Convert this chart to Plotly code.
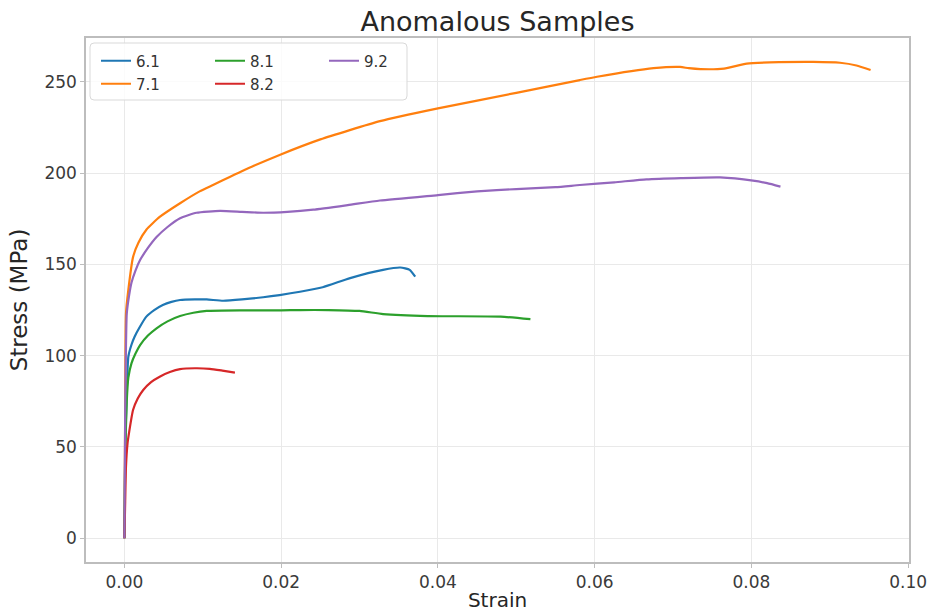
import plotly.graph_objects as go

# ---- data ----
s61 = [0, 0.0001, 0.0003, 0.0005, 0.0009, 0.0013, 0.002, 0.0028, 0.0038, 0.0049, 0.006, 0.0071, 0.009,
       0.0105, 0.0126, 0.015, 0.0177, 0.0198, 0.0224, 0.0253, 0.0288, 0.033, 0.0352, 0.0364, 0.0371]
S61 = [0, 50, 80, 99.4, 106, 110.4, 116, 121.4, 125, 127.8, 129.5, 130.5, 130.8,
       130.8, 130.1, 130.8, 132, 133.2, 135, 137.5, 142.5, 147, 148.3, 147, 143.3]

s71 = [0, 0.0001, 0.0002, 0.0005, 0.0011, 0.0018, 0.0028, 0.0045, 0.0071, 0.0096, 0.0113, 0.0135, 0.0165,
       0.0198, 0.025, 0.0326, 0.04, 0.05, 0.0581, 0.0603, 0.0675, 0.0709, 0.072, 0.0735, 0.0765,
       0.0794, 0.0835, 0.0879, 0.0913, 0.0934, 0.0952]
S71 = [0, 70, 123, 136, 154, 162, 169, 176, 183.5, 190, 193.5, 198, 204,
       210, 218.5, 228.5, 235.5, 244, 251, 252.8, 257.5, 258.2, 257.5, 257, 257.3,
       260, 260.8, 261, 260.5, 259, 256.5]

s81 = [0, 0.0001, 0.0003, 0.0005, 0.0009, 0.0014, 0.002, 0.003, 0.0041, 0.0055, 0.0071, 0.0088, 0.0105,
       0.015, 0.02, 0.0224, 0.026, 0.03, 0.033, 0.0387, 0.048, 0.0518]
S81 = [0, 45, 75, 88, 95.8, 101, 105.8, 111, 115, 118.8, 121.7, 123.5, 124.5,
       124.8, 124.8, 125, 125, 124.5, 122.8, 121.7, 121.4, 120]

s82 = [0, 0.0001, 0.0002, 0.0004, 0.0006, 0.0011, 0.0017, 0.0024, 0.0034, 0.0045, 0.0058, 0.0071, 0.009,
       0.0109, 0.0125, 0.0141]
S82 = [0, 20, 39, 52, 58, 70.2, 76.5, 81.2, 85.5, 88.5, 91, 92.6, 93.1,
       92.8, 91.8, 90.7]

s92 = [0, 0.0001, 0.0003, 0.0006, 0.0009, 0.0014, 0.002, 0.003, 0.0041, 0.0055, 0.0071, 0.0092, 0.0122,
       0.015, 0.0177, 0.0208, 0.0241, 0.0285, 0.0326, 0.04, 0.045, 0.05, 0.055, 0.0581, 0.0625, 0.0666,
       0.071, 0.076, 0.0802, 0.082, 0.0837]
S92 = [0, 70, 123, 133, 140, 146.5, 152.4, 159, 165, 170.5, 175.3, 178.3, 179.3,
       178.8, 178.3, 178.8, 180, 182.5, 185, 188, 190, 191.3, 192.3, 193.5, 195, 196.6,
       197.3, 197.7, 195.9, 194.5, 192.6]

names = ["6.1", "7.1", "8.1", "8.2", "9.2"]
strains = [s61, s71, s81, s82, s92]
stresses = [S61, S71, S81, S82, S92]
colors = ["#1f77b4", "#ff7f0e", "#2ca02c", "#d62728", "#9467bd"]
legend_of = ["legend", "legend2", "legend", "legend2", "legend"]

xticks = [0, 0.02, 0.04, 0.06, 0.08, 0.10]
yticks = [0, 50, 100, 150, 200, 250]

fig = go.Figure()
for n, x, y, c, lg in zip(names, strains, stresses, colors, legend_of):
    fig.add_trace(go.Scatter(x=x, y=y, mode="lines", name=n,
                             line=dict(color=c, width=2.2, shape="spline", smoothing=0.5),
                             legend=lg))

axis_common = dict(showgrid=True, gridcolor="#e9e9e9", gridwidth=1,
                   showline=True, mirror=True, linecolor="#bdbdbd", linewidth=1.5,
                   ticks="outside", ticklen=4, tickcolor="#bdbdbd", tickwidth=1,
                   zeroline=False, automargin=False,
                   tickfont=dict(size=17, color="#3a3a3a", family="DejaVu Sans"))

fig.update_layout(
    width=930, height=615,
    margin=dict(l=86, r=21, t=38, b=53, autoexpand=False),
    paper_bgcolor="white", plot_bgcolor="white",
    font=dict(family="DejaVu Sans", color="#333333"),
    title=dict(text="Anomalous Samples", x=0.5, xref="paper", xanchor="center",
               y=1 - 22 / 615, yref="container", yanchor="middle",
               font=dict(size=27, color="#262626", family="DejaVu Sans")),
    xaxis=dict(range=[-0.0049, 0.1001], tickvals=xticks, tickformat=".2f",
               title=dict(text="Strain", font=dict(size=20, color="#262626"), standoff=2),
               **axis_common),
    yaxis=dict(range=[-13.05, 274.05], tickvals=yticks,
               title=dict(text="Stress (MPa)", font=dict(size=23, color="#262626"), standoff=10),
               **axis_common),
    legend=dict(orientation="h", x=(96 - 86) / 823, xanchor="left",
                y=(562 - 61) / 524, yanchor="middle", entrywidth=69,
                bgcolor="rgba(0,0,0,0)", font=dict(size=15, color="#333333")),
    legend2=dict(orientation="h", x=(96 - 86) / 823, xanchor="left",
                 y=(562 - 84) / 524, yanchor="middle", entrywidth=69,
                 bgcolor="rgba(0,0,0,0)", font=dict(size=15, color="#333333")),
)

# legend frame (rounded box as in the original)
x0, x1 = (90 - 86) / 823, (407 - 86) / 823
y0, y1 = (562 - 100) / 524, (562 - 43) / 524
rx, ry = 4 / 823, 4 / 524
path = (f"M{x0+rx},{y1} L{x1-rx},{y1} Q{x1},{y1} {x1},{y1-ry} L{x1},{y0+ry} "
        f"Q{x1},{y0} {x1-rx},{y0} L{x0+rx},{y0} Q{x0},{y0} {x0},{y0+ry} "
        f"L{x0},{y1-ry} Q{x0},{y1} {x0+rx},{y1} Z")
fig.add_shape(type="path", path=path, xref="paper", yref="paper",
              line=dict(color="#d9d9d9", width=1), fillcolor="rgba(255,255,255,0.8)",
              layer="above")

fig.write_html("out.html")
